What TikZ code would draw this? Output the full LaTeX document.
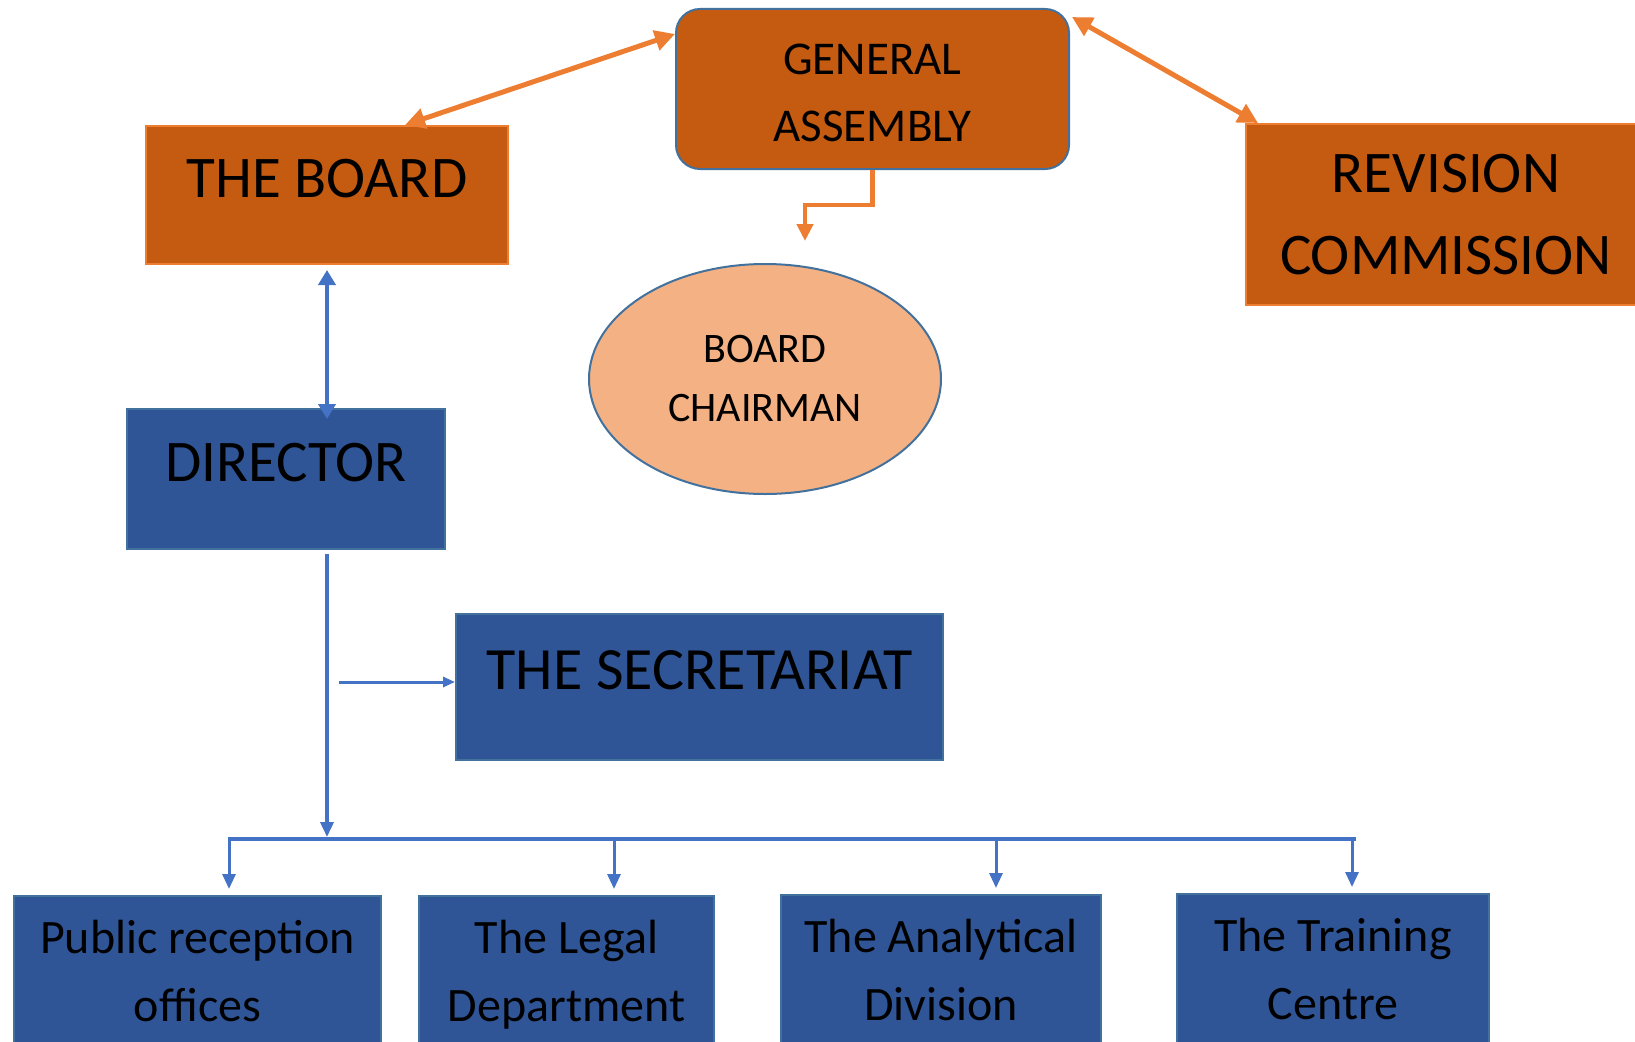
\documentclass[tikz,border=0pt]{standalone}
\usepackage{fontspec}
\setmainfont{Carlito}
\usetikzlibrary{arrows.meta, positioning, calc, shapes.geometric}
\definecolor{burnt}{HTML}{C55A11}
\definecolor{orangeln}{HTML}{ED7D31}
\definecolor{navy}{HTML}{2F5597}
\definecolor{edgeblue}{HTML}{41719C}
\definecolor{linkblue}{HTML}{4472C4}
\definecolor{peach}{HTML}{F4B183}

\begin{document}
\begin{tikzpicture}[x=1pt, y=-1pt, >={Triangle[length=15pt, width=13pt]},
  orgbox/.style={draw=orangeln, line width=2pt, fill=burnt, inner sep=0pt},
  bluebox/.style={draw=edgeblue, line width=2pt, fill=navy, inner sep=0pt},
  raised/.style={text depth=34pt},
  bigtext/.style={font=\fontsize{59}{82}\selectfont},
  unittext/.style={font=\fontsize{48}{68}\selectfont, align=center, text depth=0pt},
  orangelink/.style={orangeln, line width=5pt},
  bluelink/.style={linkblue, line width=3pt}]

\useasboundingbox (0,0) rectangle (1635,1041);

% Governing bodies
\node[orgbox, draw=edgeblue, rounded corners=24pt, minimum width=393pt, minimum height=160pt,
  align=center, text height=105pt, font=\fontsize{47}{67}\selectfont] (ga) at (872.5,89) {GENERAL\\ASSEMBLY};
\node[orgbox, raised, bigtext, minimum width=362pt, minimum height=138pt] (board) at (327,195) {THE BOARD};
\node[orgbox, bigtext, align=center, minimum width=400pt, minimum height=181pt] (rev) at (1446,214.5)
  {REVISION\\COMMISSION};
\node[ellipse, draw=edgeblue, line width=2pt, fill=peach, inner sep=0pt, minimum width=352pt,
  minimum height=230pt, align=center, font=\fontsize{42}{59}\selectfont] (chair) at (765,379)
  {BOARD\\CHAIRMAN};

% Executive
\node[bluebox, raised, bigtext, minimum width=318pt, minimum height=140pt] (director) at (286,479) {DIRECTOR};
\node[bluebox, raised, bigtext, font=\fontsize{60}{82}\selectfont, minimum width=487pt, minimum height=146pt]
  (sec) at (699.5,687) {THE SECRETARIAT};

% Units
\node[bluebox, unittext, minimum width=367pt, minimum height=150pt] (pub) at (197.5,971) {Public reception\\offices};
\node[bluebox, unittext, minimum width=295pt, minimum height=150pt] (legal) at (566.5,971) {The Legal\\Department};
\node[bluebox, unittext, minimum width=320pt, minimum height=150pt] (anal) at (941,970) {The Analytical\\Division};
\node[bluebox, unittext, minimum width=312pt, minimum height=150pt] (train) at (1333,969) {The Training\\Centre};

% Orange links
\draw[orangelink, {Triangle[length=20pt, width=20pt]}-{Triangle[length=20pt, width=20pt]}]
  ([xshift=78pt]board.north) -- ([yshift=55pt]ga.west);
\draw[orangelink, {Triangle[length=20pt, width=20pt]}-{Triangle[length=20pt, width=20pt]}]
  ([shift={(2pt,-9pt)}]ga.north east) -- ([xshift=13pt]rev.north west);
\coordinate (bend) at (805,205);
\coordinate (chairtip) at ([yshift=22pt]chair.north);
\draw[orangelink, line width=4.5pt, -{Triangle[length=17pt, width=16pt]}]
  (ga.south) |- (bend) -- (bend |- chairtip);

% Blue links
\coordinate (dirtop) at ([yshift=-11pt]director.north);
\draw[bluelink, line width=4.5pt, {Triangle[length=15pt, width=17pt]}-{Triangle[length=15pt, width=17pt]},
  shorten <=5pt] (board.south) -- (board.south |- dirtop);

\coordinate (busL) at (228,839);
\coordinate (busR) at (1356,839);
\draw[bluelink, line width=4.5pt] (busL) -- (busR);
\draw[bluelink, line width=3.5pt, ->, shorten <=4pt, shorten >=2pt]
  (board.south |- director.south) -- (board.south |- busL);

\coordinate (branch) at (339,682);
\draw[bluelink, ->, >={Triangle[length=12pt, width=10pt]}] (branch) -- (branch -| sec.west);

\foreach \n/\x in {pub/229, legal/614, anal/996, train/1352}{
  \coordinate (d\n) at (\x,839);
  \draw[bluelink, ->, shorten >=6pt] (d\n) -- (d\n |- \n.north);
}

\end{tikzpicture}
\end{document}
